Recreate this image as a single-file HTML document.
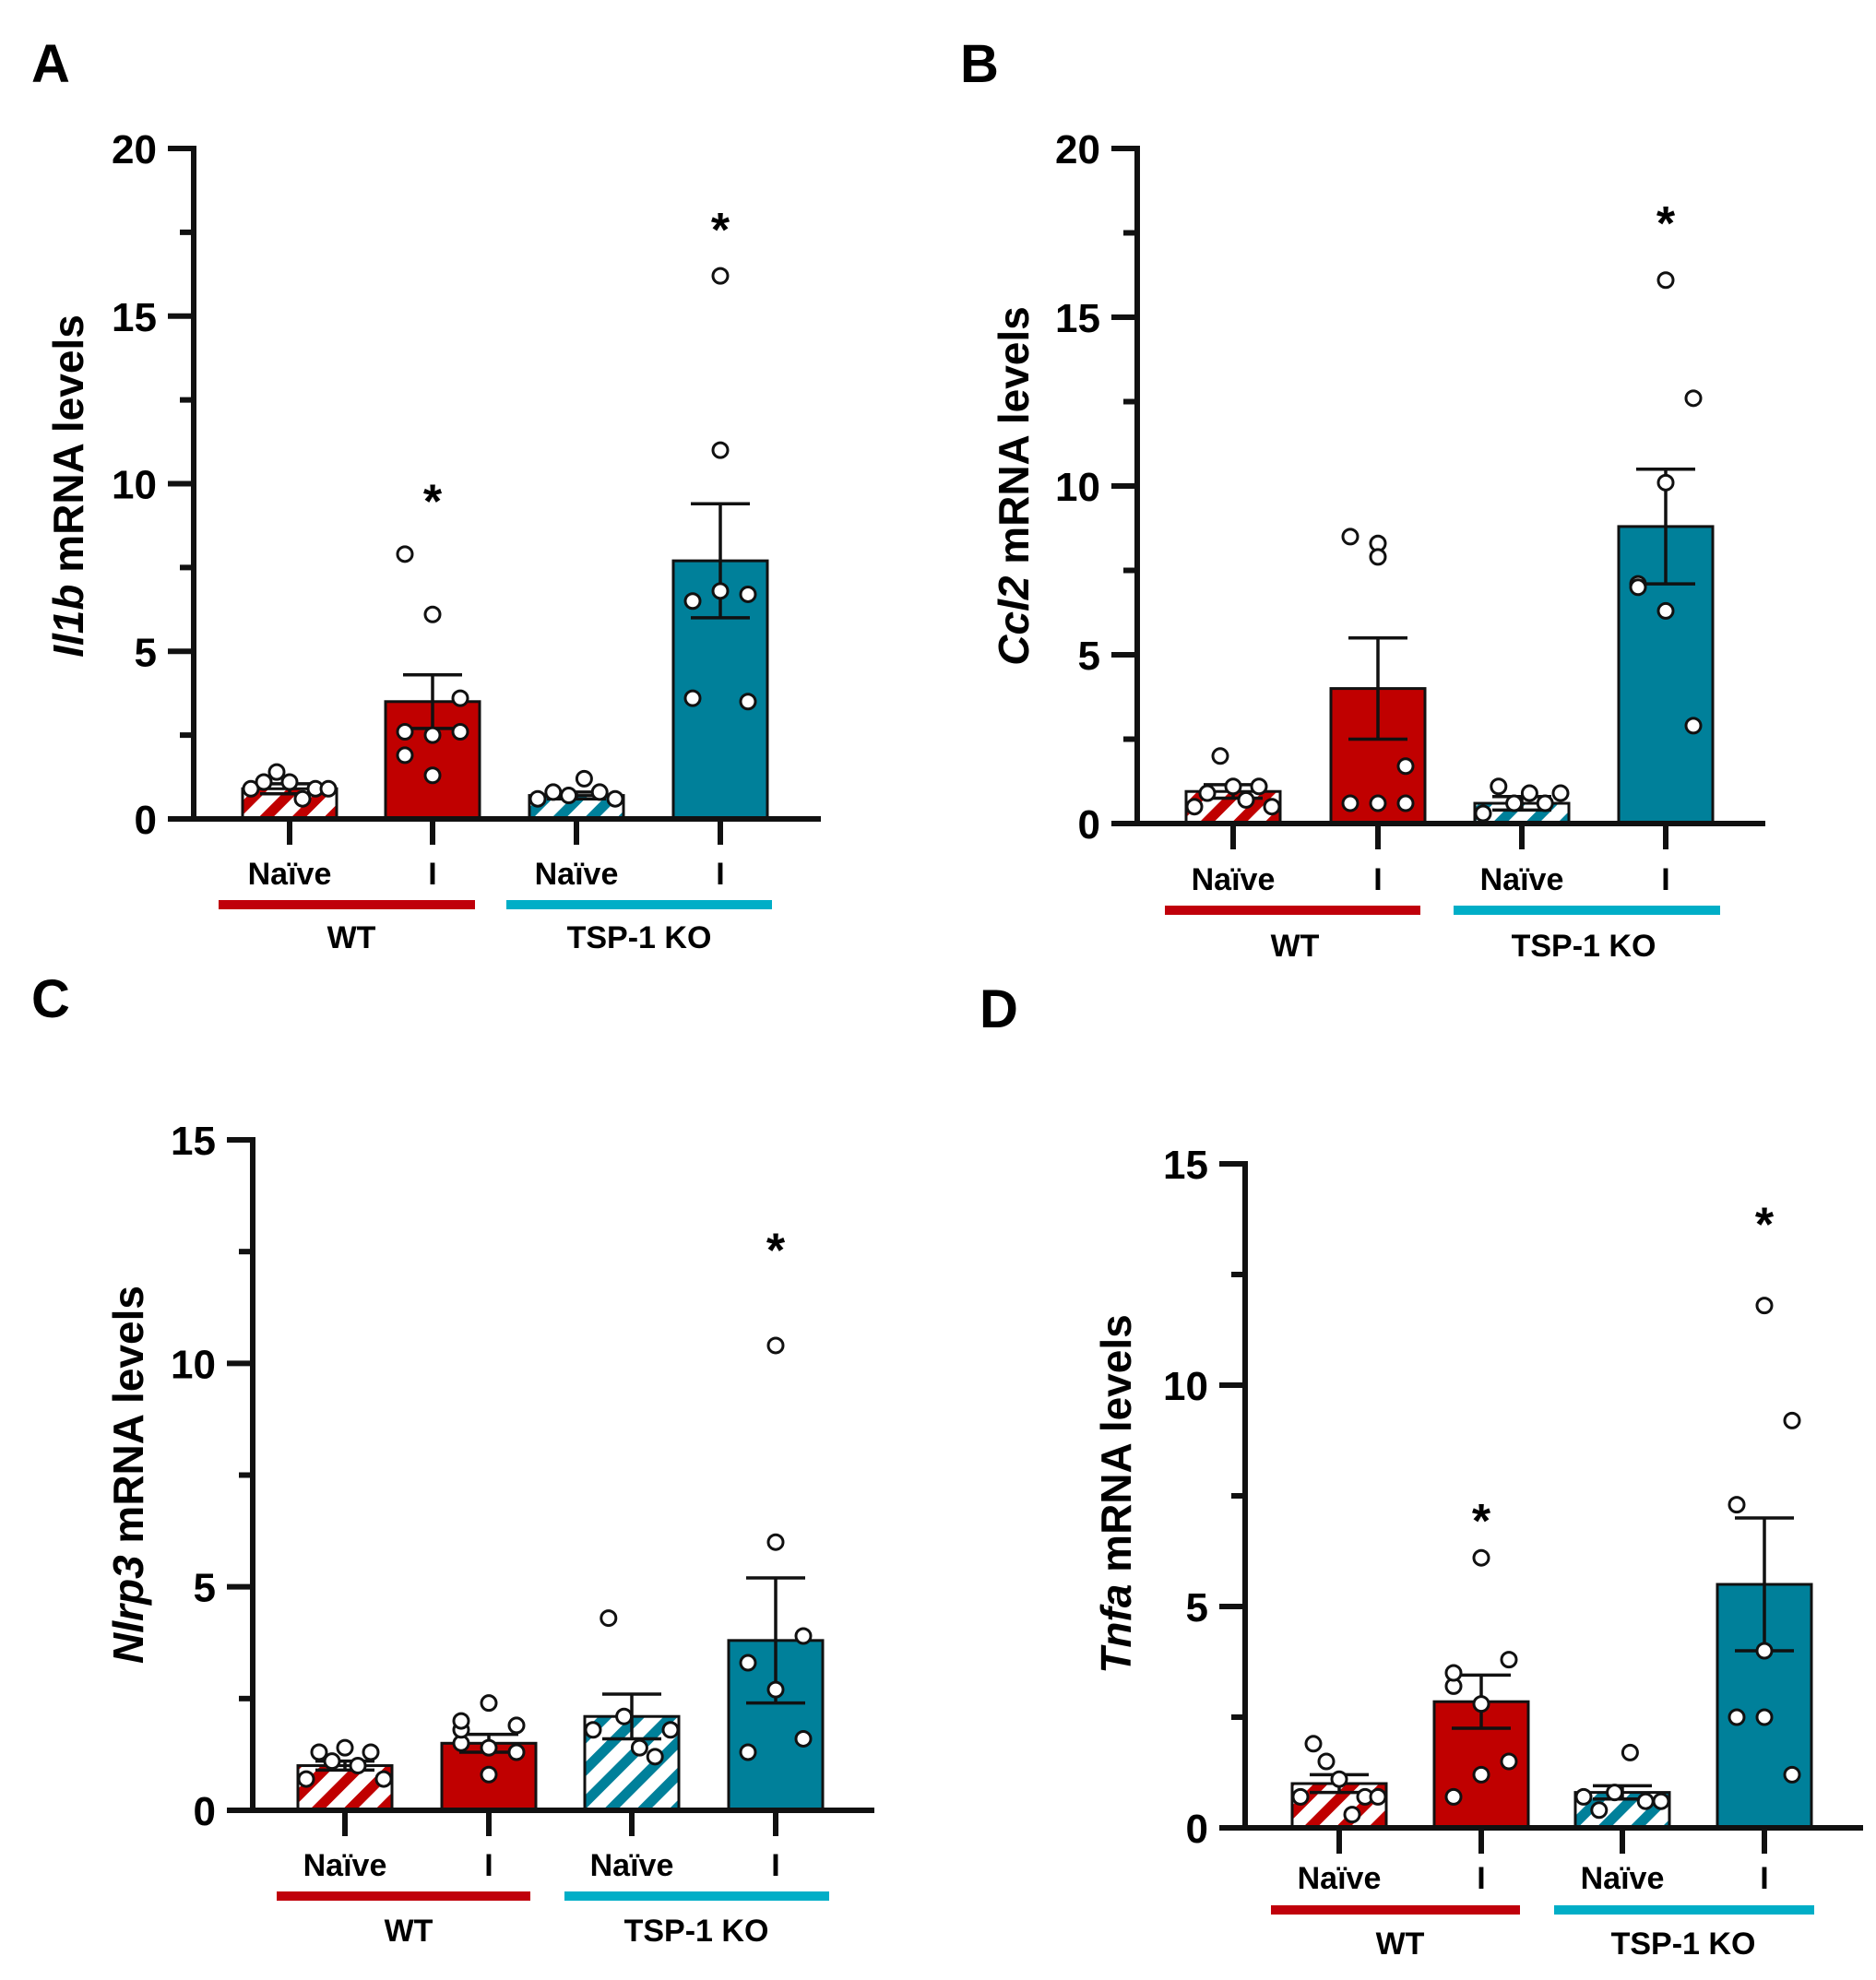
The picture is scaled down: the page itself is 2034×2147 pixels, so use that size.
<!DOCTYPE html>
<html><head><meta charset="utf-8">
<style>
html,body{margin:0;padding:0;background:#fff;}
svg{display:block;font-family:"Liberation Sans",Arial,sans-serif;}
</style></head>
<body>
<svg id="fig" width="2034" height="2147" viewBox="0 0 2034 2147" xmlns="http://www.w3.org/2000/svg">
<defs>
<pattern id="hatchRed" patternUnits="userSpaceOnUse" width="25" height="25" patternTransform="rotate(45)">
<rect width="25" height="25" fill="#fff"/><rect x="0" y="0" width="11" height="25" fill="#c00000"/></pattern>
<pattern id="hatchTeal" patternUnits="userSpaceOnUse" width="25" height="25" patternTransform="rotate(45)">
<rect width="25" height="25" fill="#fff"/><rect x="0" y="0" width="11" height="25" fill="#00809a"/></pattern>
</defs>
</svg>
<script>
// ---- shared ----
const categories = ["Naïve", "I", "Naïve", "I"];
const groups = ["WT", "TSP-1 KO"];

// ---- Panel A: Il1b ----
const aMeans = [0.9, 3.5, 0.7, 7.7];
const aSems = [0.15, 0.8, 0.1, 1.7];
const aPoints = [[0.9,1.1,1.4,1.1,0.6,0.9,0.9],[7.9,6.1,3.6,2.6,2.5,2.6,1.9,1.3],[0.6,0.8,0.7,1.2,0.8,0.6],[16.2,11.0,6.7,6.5,6.8,3.5,3.6]];
const aStars = [null, 9.7, null, 17.8];
const aTicks = [0,5,10,15,20];
// ---- Panel B: Ccl2 ----
const bMeans = [0.95, 4.0, 0.6, 8.8];
const bSems = [0.2, 1.5, 0.2, 1.7];
const bPoints = [[0.5,0.9,2.0,1.1,0.7,1.1,0.5],[0.6,8.3,1.7,8.5,7.9,0.6,0.6],[0.3,1.1,0.6,0.9,0.6,0.9],[10.1,16.1,12.6,7.1,6.3,2.9,7.0]];
const bStars = [null, null, null, 18.0];
const bTicks = [0,5,10,15,20];
// ---- Panel C: Nlrp3 ----
const cMeans = [1.0, 1.5, 2.1, 3.8];
const cSems = [0.1, 0.2, 0.5, 1.4];
const cPoints = [[0.7,1.3,1.1,1.4,1.0,1.3,0.7],[1.5,2.4,1.9,1.8,1.4,1.3,2.0,0.8],[1.8,4.3,2.1,1.4,1.2,1.8],[6.0,10.4,3.9,3.3,2.7,1.6,1.3]];
const cStars = [null, null, null, 12.7];
const cTicks = [0,5,10,15];
// ---- Panel D: Tnfa ----
const dMeans = [1.0, 2.85, 0.8, 5.5];
const dSems = [0.2, 0.6, 0.15, 1.5];
const dPoints = [[0.7,1.9,1.5,1.1,0.3,0.7,0.7],[3.2,6.1,3.8,3.5,2.8,1.5,0.7,1.2],[0.7,0.4,0.8,1.7,0.6,0.6],[2.5,11.8,9.2,7.3,4.0,1.2,2.5]];
const dStars = [null, 7.1, null, 13.8];
const dTicks = [0,5,10,15];

const NS = "http://www.w3.org/2000/svg";
const svg = document.getElementById('fig');
function mk(tag, attrs, parent, txt){
  const e = document.createElementNS(NS, tag);
  for (const k in attrs) e.setAttribute(k, attrs[k]);
  if (txt !== undefined) e.textContent = txt;
  (parent||svg).appendChild(e);
  return e;
}

function panel(cfg){
  const g = mk('g', {});
  
  
  const ymax = cfg.ticks[cfg.ticks.length-1];
  const y = v => cfg.y0 - (v / ymax) * (cfg.y0 - cfg.yTop);
  const L = mk('text', {x: cfg.letterX, y: cfg.letterY, 'font-size': 58, 'font-weight': 'bold'}, g, cfg.letter);
  
  
  const t = mk('text', {x: 0, y: 0, 'font-size': 46, 'font-weight': 'bold', 'text-anchor': 'middle',
    transform: `translate(${cfg.titleX + 16},${cfg.titleY}) rotate(-90)`}, g);
  
  
  mk('tspan', {'font-style': 'italic'}, t, cfg.gene);
  mk('tspan', {}, t, ' mRNA levels');
  const catW = 102;
  cfg.means.forEach((m, i) => {
    const cx = cfg.xs[i];
    const naive = i % 2 === 0;
    const color = i < 2 ? '#c00000' : '#00809a';
    const fill = naive ? (i < 2 ? 'url(#hatchRed)' : 'url(#hatchTeal)') : color;
    const r = mk('rect', {x: cx - catW/2, y: y(m), width: catW, height: cfg.y0 - y(m), fill: fill, stroke: '#111', 'stroke-width': 3}, g);
    
    
    const s = cfg.sems[i];
    const eg = mk('g', {stroke: '#111', 'stroke-width': 3.5}, g);
    
    
    mk('line', {x1: cx, x2: cx, y1: y(m - s), y2: y(m + s)}, eg);
    mk('line', {x1: cx - 32, x2: cx + 32, y1: y(m + s), y2: y(m + s)}, eg);
    mk('line', {x1: cx - 32, x2: cx + 32, y1: y(m - s), y2: y(m - s)}, eg);
    const pts = cfg.points[i];
    pts.forEach((v, j) => {
      let off;
      if (naive) off = pts.length > 1 ? -42 + 84 * j / (pts.length - 1) : 0;
      else off = ((j % 3) - 1) * 30 * (j === 0 && pts.length % 3 === 1 ? 0 : 1);
      const c = mk('circle', {cx: cx + off, cy: y(v), r: 8, fill: '#fff', stroke: '#111', 'stroke-width': 3}, g);
      
      
    });
    if (cfg.stars[i] !== null) {
      const st = mk('text', {x: cx, y: y(cfg.stars[i]) + 26, 'font-size': 52, 'font-weight': 'bold', 'text-anchor': 'middle'}, g, '*');
      
      
    }
    mk('line', {x1: cx, x2: cx, y1: cfg.y0, y2: cfg.y0 + 28, stroke: '#111', 'stroke-width': 6}, g);
    const xl = mk('text', {x: cx, y: cfg.labY + 12, 'font-size': 34, 'font-weight': 'bold', 'text-anchor': 'middle'}, g, categories[i]);
    
    
  });
  const ax = mk('g', {stroke: '#111', 'stroke-width': 6, fill: 'none'}, g);
  
  
  mk('line', {x1: cfg.xAxis, x2: cfg.xAxis, y1: cfg.yTop - 3, y2: cfg.y0 + 3}, ax);
  mk('line', {x1: cfg.xAxis - 28, x2: cfg.xEnd, y1: cfg.y0, y2: cfg.y0}, ax);
  const step = cfg.ticks[1] - cfg.ticks[0];
  for (let k = 0; k < cfg.ticks.length; k++) {
    const v = cfg.ticks[k];
    mk('line', {x1: cfg.xAxis - 28, x2: cfg.xAxis, y1: y(v), y2: y(v)}, ax);
    if (k < cfg.ticks.length - 1) mk('line', {x1: cfg.xAxis - 15, x2: cfg.xAxis, y1: y(v + step/2), y2: y(v + step/2)}, ax);
    const tl = mk('text', {x: cfg.xAxis - 40, y: y(v) + 16, 'font-size': 44, 'font-weight': 'bold', 'text-anchor': 'end'}, g, String(v));
    
    
  }
  const gc = ['#c0000b', '#00aec7'];
  [0,1].forEach(k => {
    const ln = mk('line', {x1: cfg.grp[k][0], x2: cfg.grp[k][1], y1: cfg.lineY, y2: cfg.lineY, stroke: gc[k], 'stroke-width': 10}, g);
    
    
    const gl = mk('text', {x: cfg.gx[k], y: cfg.gY + 12, 'font-size': 34, 'font-weight': 'bold', 'text-anchor': 'middle'}, g, groups[k]);
    
    
  });
}

panel({letter:'A', letterX:34, letterY:89, gene:'Il1b', titleX:74, titleY:527,
  xAxis:210, xEnd:890, yTop:161, y0:888, xs:[314,469,625,781], labY:947, lineY:981, gY:1016,
  grp:[[237,515],[549,837]], gx:[381,693], ticks:aTicks, means:aMeans, sems:aSems, points:aPoints, stars:aStars});
panel({letter:'B', letterX:1041, letterY:89, gene:'Ccl2', titleX:1099, titleY:527,
  xAxis:1233, xEnd:1914, yTop:161, y0:893, xs:[1337,1494,1650,1806], labY:953, lineY:987, gY:1025,
  grp:[[1263,1540],[1576,1865]], gx:[1404,1717], ticks:bTicks, means:bMeans, sems:bSems, points:bPoints, stars:bStars});
panel({letter:'C', letterX:34, letterY:1103, gene:'Nlrp3', titleX:139, titleY:1599,
  xAxis:274, xEnd:948, yTop:1236, y0:1963, xs:[374,530,685,841], labY:2022, lineY:2056, gY:2093,
  grp:[[300,575],[612,899]], gx:[443,755], ticks:cTicks, means:cMeans, sems:cSems, points:cPoints, stars:cStars});
panel({letter:'D', letterX:1062, letterY:1114, gene:'Tnfa', titleX:1210, titleY:1620,
  xAxis:1350, xEnd:2020, yTop:1262, y0:1982, xs:[1452,1606,1759,1913], labY:2036, lineY:2071, gY:2107,
  grp:[[1378,1648],[1685,1967]], gx:[1518,1825], ticks:dTicks, means:dMeans, sems:dSems, points:dPoints, stars:dStars});
</script>
</body></html>
